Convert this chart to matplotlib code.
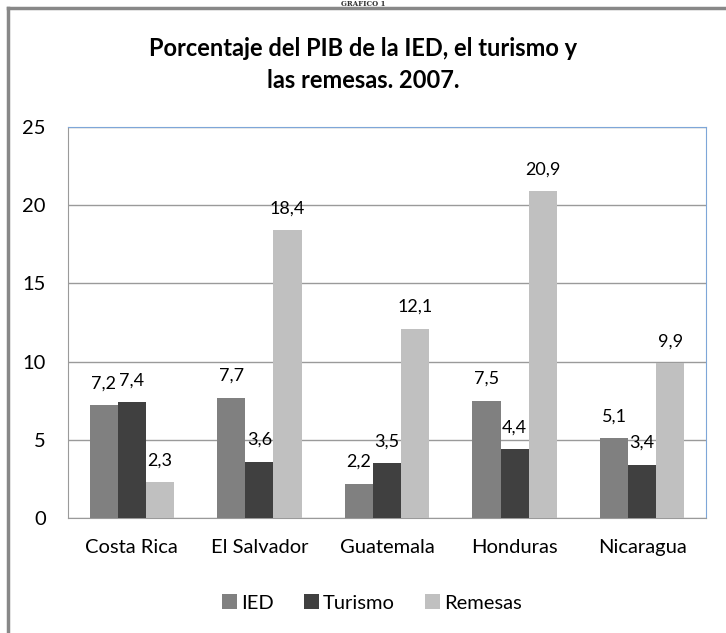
import numpy as np
import matplotlib.pyplot as plt
from matplotlib.lines import Line2D

paises = ['Costa Rica', 'El Salvador', 'Guatemala', 'Honduras', 'Nicaragua']
ied = [7.2, 7.7, 2.2, 7.5, 5.1]
turismo = [7.4, 3.6, 3.5, 4.4, 3.4]
remesas = [2.3, 18.4, 12.1, 20.9, 9.9]
series = ['IED', 'Turismo', 'Remesas']
colores = ['#808080', '#404040', '#c0c0c0']

plt.rcParams['font.family'] = ['Lato', 'DejaVu Sans']

fig = plt.figure(figsize=(7.26, 6.33), dpi=100)
ax = fig.add_axes([68/726, 1-518/633, (706-68)/726, (518-127)/633])

x = np.arange(len(paises))
w = 0.22
for k, (vals, nom, col) in enumerate(zip([ied, turismo, remesas], series, colores)):
    bars = ax.bar(x + (k-1)*w, vals, w, color=col, label=nom, zorder=3)
    for b, v in zip(bars, vals):
        ax.annotate(f'{v:.1f}'.replace('.', ','), (b.get_x()+b.get_width()/2, v),
                    xytext=(0, 10), textcoords='offset points', ha='center',
                    va='bottom', fontsize=13)

ax.set_xlim(-0.5, len(paises)-0.5)
ax.set_ylim(0, 25)
ax.set_yticks(range(0, 26, 5))
ax.set_xticks(x)
ax.set_xticklabels(paises, fontsize=14.5)
ax.tick_params(axis='y', labelsize=14.5, length=0, pad=16)
ax.tick_params(axis='x', length=0, pad=15)
ax.grid(axis='y', color='#9a9a9a', linewidth=1, zorder=0)
for s in ['top', 'right']:
    ax.spines[s].set_color('#7ea6d8')
for s in ['left', 'bottom']:
    ax.spines[s].set_color('#9a9a9a')

fig.text(0.5, 1-48/633, 'Porcentaje del PIB de la IED, el turismo y',
         ha='center', va='center', fontsize=17, fontweight='bold')
fig.text(0.5, 1-80/633, 'las remesas. 2007.',
         ha='center', va='center', fontsize=17, fontweight='bold')
fig.text(0.5, 1-0.5/633, 'GRÁFICO 1', ha='center', va='top',
         fontsize=5, fontweight='bold', family='DejaVu Serif', color='#333333')

fig.legend(loc='center', bbox_to_anchor=(372/726, 1-603/633), ncol=3,
           frameon=False, fontsize=14.5, handlelength=0.75, handleheight=0.75,
           handletextpad=0.2, columnspacing=1.5)

# marco exterior
fig.add_artist(Line2D([8/726, 8/726], [0, 1-8/633], color='#888888', lw=2.5,
                      transform=fig.transFigure))
fig.add_artist(Line2D([8/726, 1], [1-8/633, 1-8/633], color='#888888', lw=2.5,
                      transform=fig.transFigure))

fig.savefig('out.png', dpi=100)
